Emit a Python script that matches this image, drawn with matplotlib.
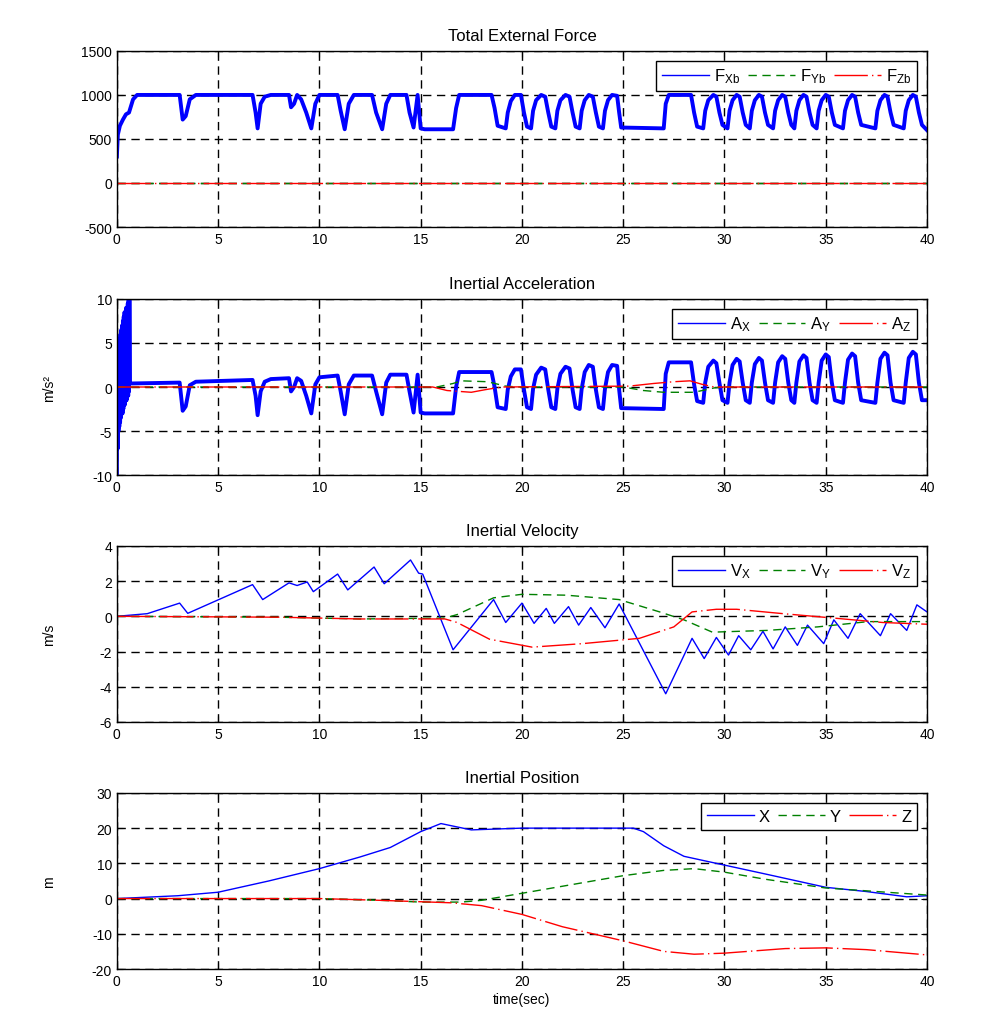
import numpy as np
import matplotlib
matplotlib.use('Agg')
import matplotlib.pyplot as plt

plt.rcParams['font.family'] = ['Liberation Sans', 'DejaVu Sans']
plt.rcParams['mathtext.fontset'] = 'custom'
plt.rcParams['mathtext.rm'] = 'Liberation Sans'
plt.rcParams['mathtext.it'] = 'Liberation Sans'
plt.rcParams['axes.unicode_minus'] = False

# ---- thrust pulses (shared time base for force and acceleration, t >= 3.1) ----
pulse_t = [3.1, 3.25, 3.4, 3.6, 3.9,
           6.7, 6.85, 6.95, 7.1, 7.3, 7.6, 8.5, 8.6, 8.75, 8.9, 9.1, 9.35, 9.6, 9.8, 10.0,
           10.9, 11.05, 11.25, 11.45, 11.7, 12.6, 12.8, 13.1, 13.3, 13.5,
           14.3, 14.45, 14.65, 14.85, 15.0, 15.2, 16.6, 16.75, 16.9,
           18.5, 18.65, 18.8, 19.2, 19.3, 19.45, 19.65, 19.95, 20.1, 20.25,
           20.45, 20.55, 20.7, 20.95, 21.15, 21.3, 21.45,
           21.65, 21.75, 21.9, 22.15, 22.35, 22.5, 22.65,
           22.85, 22.95, 23.1, 23.3, 23.5, 23.65, 23.8,
           24.0, 24.1, 24.25, 24.45, 24.7, 24.8, 24.9,
           27.0, 27.1, 27.25, 28.35, 28.5, 28.65,
           28.95, 29.05, 29.2, 29.45, 29.6, 29.75, 29.9,
           30.15, 30.25, 30.4, 30.6, 30.75, 30.9, 31.05,
           31.25, 31.35, 31.5, 31.7, 31.85, 32.0, 32.15,
           32.4, 32.5, 32.65, 32.85, 33.0, 33.15, 33.3,
           33.45, 33.55, 33.7, 33.9, 34.05, 34.2, 34.35,
           34.55, 34.65, 34.8, 35.0, 35.15, 35.3, 35.45,
           35.85, 35.95, 36.1, 36.3, 36.45, 36.6, 36.75,
           37.45, 37.55, 37.7, 37.9, 38.05, 38.2, 38.35,
           38.85, 38.95, 39.1, 39.3, 39.45, 39.6, 39.75,
           40.0]
fx_pulse = [1000, 720, 760, 950, 1000,
            1000, 800, 620, 900, 980, 1000, 1000, 860, 900, 1000, 950, 800, 620, 900, 1000,
            1000, 820, 610, 900, 1000, 1000, 800, 610, 900, 1000,
            1000, 800, 630, 1000, 620, 610, 610, 850, 1000,
            1000, 850, 650, 620, 800, 930, 1000, 1000, 800, 640,
            620, 820, 940, 1000, 980, 800, 640,
            620, 820, 940, 1000, 980, 800, 640,
            620, 820, 940, 1000, 980, 800, 640,
            620, 820, 940, 1000, 990, 800, 630,
            620, 900, 1000, 1000, 800, 640,
            620, 820, 940, 1000, 980, 800, 660,
            620, 820, 940, 1000, 980, 800, 660,
            620, 820, 940, 1000, 980, 800, 660,
            620, 820, 940, 1000, 980, 800, 660,
            620, 820, 940, 1000, 980, 800, 660,
            620, 820, 940, 1000, 980, 800, 660,
            620, 820, 940, 1000, 980, 800, 660,
            620, 820, 940, 1000, 980, 800, 660,
            620, 820, 940, 1000, 980, 800, 660,
            600]
ax_pulse = [0.5, -2.7, -2.2, 0.2, 0.6,
            0.8, -1.0, -3.2, -0.5, 0.6, 0.9, 1.0, -0.5, 0.0, 1.0, 0.7, -1.0, -3.0, 0.3, 1.1,
            1.3, -0.5, -3.1, 0.3, 1.3, 1.3, -0.5, -3.1, 0.5, 1.4,
            1.4, -0.5, -2.9, 1.4, -2.9, -3.0, -3.0, 0.0, 1.7,
            1.7, 0.0, -2.3, -2.5, -0.3, 1.2, 2.0, 2.0, -0.3, -2.3,
            -2.5, -0.2, 1.4, 2.2, 2.0, -0.3, -2.3,
            -2.5, -0.2, 1.5, 2.3, 2.1, -0.3, -2.3,
            -2.5, -0.2, 1.7, 2.5, 2.3, -0.3, -2.3,
            -2.5, -0.2, 1.7, 2.5, 2.4, -0.3, -2.4,
            -2.5, 1.5, 2.8, 2.8, 0.3, -1.6,
            -1.8, 0.5, 2.3, 3.0, 2.7, 0.5, -1.5,
            -1.8, 0.5, 2.5, 3.2, 2.9, 0.5, -1.5,
            -1.8, 0.5, 2.6, 3.3, 3.0, 0.5, -1.5,
            -1.8, 0.5, 2.8, 3.5, 3.2, 0.5, -1.5,
            -1.8, 0.5, 2.9, 3.6, 3.3, 0.5, -1.5,
            -1.8, 0.5, 3.0, 3.7, 3.4, 0.5, -1.5,
            -1.8, 0.5, 3.1, 3.8, 3.5, 0.5, -1.5,
            -1.8, 0.5, 3.2, 3.9, 3.6, 0.5, -1.5,
            -1.8, 0.5, 3.3, 4.0, 3.7, 0.5, -1.5,
            -1.5]

# ---- Total external force ----
fx_t = [0, 0.05, 0.15, 0.3, 0.45, 0.6, 0.8, 1.0] + pulse_t
fx_v = [300, 550, 650, 720, 780, 800, 950, 1000] + fx_pulse
fy_t = [0, 40]
fy_v = [0, 0]
fz_t = [0, 40]
fz_v = [0, 0]

# ---- Inertial acceleration (start-up transient then pulses) ----
ax_t = [0, 0.02, 0.04, 0.06, 0.08, 0.1, 0.12, 0.14, 0.16, 0.18, 0.2, 0.22, 0.24,
        0.26, 0.28, 0.3, 0.32, 0.34, 0.36, 0.38, 0.4, 0.42, 0.44, 0.46, 0.48,
        0.5, 0.52, 0.54, 0.56, 0.58, 0.6, 0.62, 0.65, 0.7] + pulse_t
ax_v = [-10, 3, -7, 4, -5, 5, -4.5, 5.5, -4, 6, -3.5, 6.5, -3,
        7, -3, 7.5, -2.5, 8, -2, 8.5, -2, 8.5, -1.5, 9, -1.5,
        9, -1, 9.5, -1, 10, -0.5, 10, 0.4, 0.4] + ax_pulse
ay_t = [0, 15.8, 16.6, 17.0, 18.3, 19.2, 19.8, 25.0, 26.0, 27.0, 28.5, 29.5, 30.0, 40.0]
ay_v = [0, 0.0, 0.4, 0.7, 0.6, 0.1, 0.0, 0.0, -0.4, -0.6, -0.6, -0.1, 0.0, 0.0]
az_t = [0, 15.6, 16.3, 17.5, 18.2, 19.0, 25.3, 26.5, 27.5, 28.3, 28.9, 29.5, 40.0]
az_v = [0, 0.0, -0.4, -0.6, -0.3, 0.0, 0.1, 0.4, 0.6, 0.7, 0.3, 0.0, 0.0]

# ---- Inertial velocity ----
vx_t = [0, 1.5, 3.1, 3.5, 6.7, 7.2, 8.5, 8.9, 9.4, 9.7, 10.9, 11.4, 12.7, 13.2,
        14.5, 14.9, 15.1, 16.6, 18.6, 19.2, 20.0, 20.6, 21.2, 21.6, 22.3, 22.8,
        23.4, 24.1, 24.8, 27.1, 28.4, 29.0, 29.6, 30.2, 30.7, 31.3, 31.9, 32.4,
        33.0, 33.6, 34.1, 34.9, 35.4, 36.1, 36.7, 37.7, 38.2, 39.0, 39.5, 40.0]
vx_v = [0, 0.15, 0.75, 0.17, 1.8, 0.95, 1.9, 1.75, 1.95, 1.4, 2.4, 1.5, 2.8, 1.85,
        3.2, 2.45, 2.4, -1.9, 0.95, -0.35, 0.75, -0.4, 0.45, -0.4, 0.55, -0.5,
        0.5, -0.65, 0.7, -4.4, -1.25, -2.4, -1.2, -2.2, -1.1, -1.9, -0.85, -1.85,
        -0.6, -1.65, -0.5, -1.55, -0.2, -1.25, 0.15, -1.1, 0.15, -0.8, 0.65, 0.25]
vy_t = [0, 8.0, 12.0, 16.2, 16.8, 18.6, 20.0, 22.2, 24.8, 26.8, 28.0, 29.4,
        32.1, 34.6, 37.1, 40.0]
vy_v = [0, -0.05, -0.15, -0.1, 0.1, 1.05, 1.25, 1.2, 0.95, 0.25, -0.2, -0.9,
        -0.8, -0.6, -0.3, -0.3]
vz_t = [0, 8.0, 12.0, 16.2, 16.8, 18.4, 20.5, 23.0, 25.8, 27.5, 28.4, 29.6,
        30.6, 32.9, 35.4, 37.8, 40.0]
vz_v = [0, -0.05, -0.15, -0.15, -0.35, -1.3, -1.75, -1.55, -1.25, -0.6, 0.25,
        0.4, 0.4, 0.15, -0.1, -0.35, -0.45]

# ---- Inertial position ----
px_t = [0, 3, 5, 7.5, 10, 12, 13.5, 15, 16, 17.5, 20, 25.5, 26, 27, 28, 30, 32,
        35, 37, 39, 40]
px_v = [0, 0.8, 1.8, 5.0, 8.5, 11.8, 14.5, 19.0, 21.3, 19.5, 20.0, 20.0, 19.0,
        15.0, 12.0, 9.5, 7.0, 3.2, 2.0, 0.5, 0.8]
py_t = [0, 10, 13, 15, 17, 18, 20, 22, 25, 27, 28.5, 30, 32, 35, 37, 40]
py_v = [0, 0, -0.5, -1.0, -1.0, -0.5, 1.5, 3.5, 6.5, 8.0, 8.5, 7.5, 5.5, 3.0,
        2.2, 1.0]
pz_t = [0, 10, 13, 16.5, 18, 20, 22, 25, 27, 28.5, 30, 33, 35, 37, 39, 40]
pz_v = [0, 0, -0.5, -1.2, -2.0, -4.5, -8.0, -12.0, -15.0, -15.8, -15.5, -14.2,
        -14.0, -14.5, -15.5, -16.0]

titles = ['Total External Force', 'Inertial Acceleration', 'Inertial Velocity',
          'Inertial Position']
ylabels = ['', 'm/s\u00b2', 'm/s', 'm']
legends = [[r'$\mathregular{F_{Xb}}$', r'$\mathregular{F_{Yb}}$', r'$\mathregular{F_{Zb}}$'],
           [r'$\mathregular{A_{X}}$', r'$\mathregular{A_{Y}}$', r'$\mathregular{A_{Z}}$'],
           [r'$\mathregular{V_{X}}$', r'$\mathregular{V_{Y}}$', r'$\mathregular{V_{Z}}$'],
           ['X', 'Y', 'Z']]
ylims = [(-500, 1500), (-10, 10), (-6, 4), (-20, 30)]
ysteps = [500, 5, 2, 10]

series = [((fx_t, fx_v), (fy_t, fy_v), (fz_t, fz_v)),
          ((ax_t, ax_v), (ay_t, ay_v), (az_t, az_v)),
          ((vx_t, vx_v), (vy_t, vy_v), (vz_t, vz_v)),
          ((px_t, px_v), (py_t, py_v), (pz_t, pz_v))]

fig = plt.figure(figsize=(9.82, 10.12), dpi=100)
bottoms = [0.7747, 0.5296, 0.2856, 0.0415]
green_ls = (0, (6, 4))
red_ls = (0, (24, 3, 1, 3))

for i in range(4):
    ax = fig.add_axes([0.119, bottoms[i], 0.825, 0.174])
    (xt, xv), (yt, yv), (zt, zv) = series[i]
    blue_lw = 2.8 if i < 2 else 1.0
    ax.plot(xt, xv, color='blue', lw=blue_lw, label=legends[i][0])
    ax.plot(yt, yv, color='green', lw=1.0, ls=green_ls, label=legends[i][1])
    ax.plot(zt, zv, color='red', lw=1.0, ls=red_ls, label=legends[i][2])

    ax.set_xlim(0, 40)
    ax.set_ylim(*ylims[i])
    ax.set_xticks(np.arange(0, 41, 5))
    ax.set_yticks(np.arange(ylims[i][0], ylims[i][1] + 1, ysteps[i]))
    ax.grid(True, color='black', ls=(0, (6, 4)), lw=1.0)
    ax.tick_params(direction='in', top=True, right=True, labelsize=10, length=4)
    for sp in ax.spines.values():
        sp.set_linewidth(1.0)
    ax.set_title(titles[i], fontsize=12, pad=8)
    if ylabels[i]:
        ax.set_ylabel(ylabels[i], fontsize=10)
        ax.yaxis.set_label_coords(-0.075, 0.5)
    leg = ax.legend(loc='upper right', ncol=3, fontsize=12, frameon=True,
                    fancybox=False, framealpha=1, edgecolor='black',
                    handlelength=2.8, handletextpad=0.3, columnspacing=0.5,
                    borderaxespad=0.6, borderpad=0.35)
    leg.get_frame().set_linewidth(1.0)
    for ln in leg.get_lines():
        ln.set_linewidth(1.0)
    if i == 3:
        ax.set_xlabel('time(sec)', fontsize=10, labelpad=3)

fig.savefig('out.png', dpi=100)
